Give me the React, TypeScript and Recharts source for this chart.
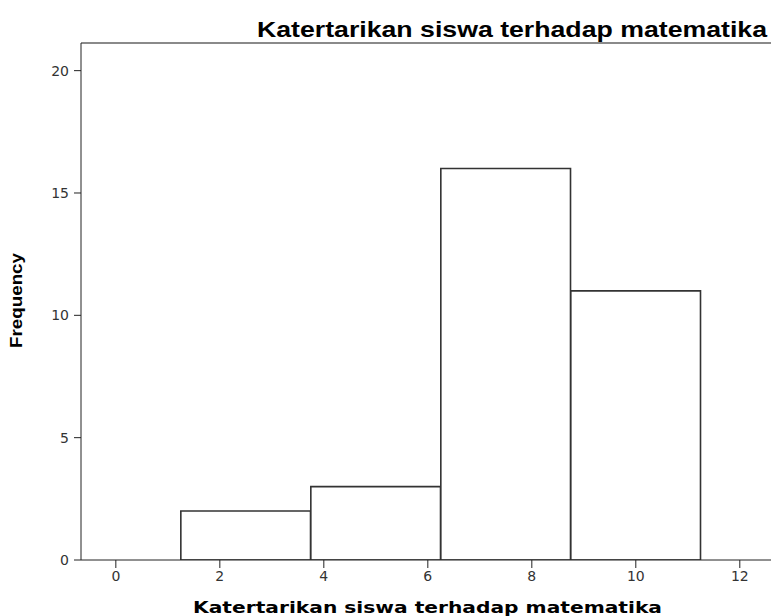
import React from "react";
import { BarChart, Bar, XAxis, YAxis, ReferenceLine } from "recharts";

const binCenters = [2.5, 5, 7.5, 10];
const frequencies = [2, 3, 16, 11];
const binWidth = 2.5;
const xTicks = [0, 2, 4, 6, 8, 10, 12];
const yTicks = [0, 5, 10, 15, 20];
const chartTitle = "Katertarikan siswa terhadap matematika";
const xTitle = "Katertarikan siswa terhadap matematika";
const yTitle = "Frequency";

const xDomain: [number, number] = [-0.67, 12.6];
const yDomain: [number, number] = [0, 21.13];

const W = 771;
const H = 616;
const M = { top: 43, right: 0, bottom: 0, left: 0 };
const Y_AXIS_W = 81;
const X_AXIS_H = 56;

const data = binCenters.map((x, i) => ({ x, freq: frequencies[i] }));
const plotW = W - M.left - M.right - Y_AXIS_W;
const barPx = (binWidth * plotW) / (xDomain[1] - xDomain[0]) - 0.3;

const ARIAL = "'Liberation Sans', Arial, sans-serif";
const DEJAVU = "'DejaVu Sans', Verdana, sans-serif";
const NARROW = "'Liberation Sans Narrow', 'Liberation Sans', Arial, sans-serif";

export default function App() {
  return (
    <div style={{ position: "absolute", left: 0, top: 0, width: W, height: H, background: "#fff" }}>
      <BarChart width={W} height={H} data={data} margin={M} barCategoryGap={0} barGap={0}>
        <XAxis
          dataKey="x"
          type="number"
          domain={xDomain}
          ticks={xTicks}
          allowDataOverflow
          height={X_AXIS_H}
          tickSize={8}
          tickMargin={3}
          stroke="#222"
          tick={{ fill: "#333", fontSize: 14, fontFamily: DEJAVU }}
        />
        <YAxis
          type="number"
          domain={yDomain}
          ticks={yTicks}
          allowDataOverflow
          width={Y_AXIS_W}
          tickSize={7}
          tickMargin={5}
          stroke="#222"
          tick={{ fill: "#333", fontSize: 14, fontFamily: DEJAVU }}
        />
        <ReferenceLine y={yDomain[1]} stroke="#8a8a8a" strokeWidth={2} />
        <Bar
          dataKey="freq"
          fill="#ffffff"
          stroke="#333"
          strokeWidth={1.6}
          barSize={barPx}
          isAnimationActive={false}
        />
      </BarChart>
      <svg
        width={W}
        height={H}
        style={{ position: "absolute", left: 0, top: 0, pointerEvents: "none" }}
      >
        <text
          x={767}
          y={37}
          textAnchor="end"
          textLength={510}
          lengthAdjust="spacingAndGlyphs"
          fontFamily={ARIAL}
          fontWeight="bold"
          fontSize={22}
          fill="#000"
        >
          {chartTitle}
        </text>
        <text
          x={427.5}
          y={613}
          textAnchor="middle"
          textLength={469}
          lengthAdjust="spacingAndGlyphs"
          fontFamily={DEJAVU}
          fontWeight="bold"
          fontSize={16.5}
          fill="#000"
        >
          {xTitle}
        </text>
        <text
          x={0}
          y={0}
          transform="translate(22,300.5) rotate(-90)"
          textAnchor="middle"
          textLength={95}
          lengthAdjust="spacingAndGlyphs"
          fontFamily={NARROW}
          fontWeight="bold"
          fontSize={17}
          fill="#000"
        >
          {yTitle}
        </text>
      </svg>
    </div>
  );
}
